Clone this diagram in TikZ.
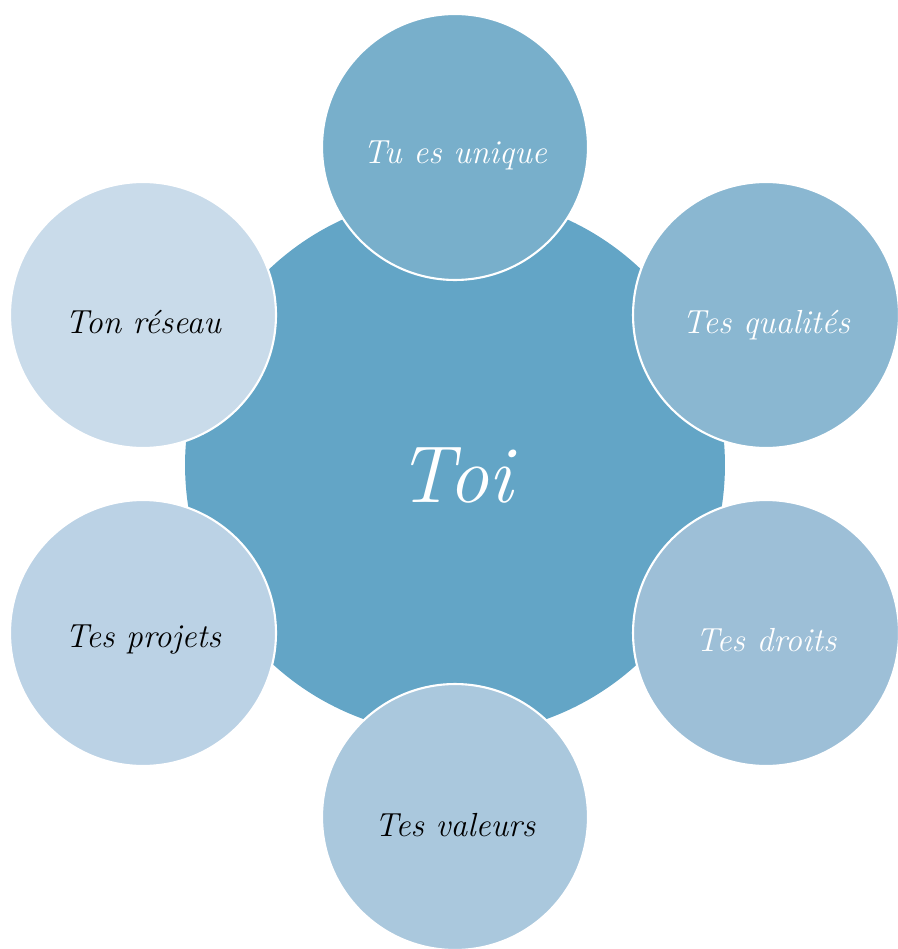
\documentclass[tikz,border=0pt]{standalone}
\usepackage{fontspec}
\definecolor{toiblue}{HTML}{63A5C6}
\definecolor{bluea}{HTML}{78AFCB}
\definecolor{blueb}{HTML}{8AB7D1}
\definecolor{bluec}{HTML}{9DBFD7}
\definecolor{blued}{HTML}{AAC8DD}
\definecolor{bluee}{HTML}{BBD2E5}
\definecolor{bluef}{HTML}{C9DBEA}
\tikzset{
  petal/.style={circle,draw=white,line width=1.2pt,minimum size=5.32cm,inner sep=0pt},
  petaltext/.style={font=\fontsize{19}{22}\selectfont\itshape},
}
\begin{document}
\begin{tikzpicture}[x=0.02cm,y=-0.02cm]
  \useasboundingbox (0,0) rectangle (898,949);
  \node[circle,fill=toiblue,minimum size=10.8cm,inner sep=0pt] (toi) at (455,465) {};
  \node[petal,fill=bluea] (unique) at (455,147) {};
  \node[petal,fill=blueb] (qualites) at (766,315) {};
  \node[petal,fill=bluec] (droits) at (766,633) {};
  \node[petal,fill=blued] (valeurs) at (455,817) {};
  \node[petal,fill=bluee] (projets) at (143,633) {};
  \node[petal,fill=bluef] (reseau) at (143,315) {};
  % labels
  \node[text=white,font=\fontsize{46}{50}\selectfont\itshape] at ([yshift=-0.22cm]toi.center) {Toi};
  \node[petaltext,text=white] at ([yshift=-0.16cm]unique.center) {Tu es unique};
  \node[petaltext,text=white] at ([yshift=-0.2cm]qualites.center) {Tes qualités};
  \node[petaltext,text=white] at ([yshift=-0.14cm]droits.center) {Tes droits};
  \node[petaltext] at ([yshift=-0.16cm]valeurs.center) {Tes valeurs};
  \node[petaltext] at ([yshift=-0.14cm]projets.center) {Tes projets};
  \node[petaltext] at ([yshift=-0.14cm]reseau.center) {Ton réseau};
\end{tikzpicture}
\end{document}
